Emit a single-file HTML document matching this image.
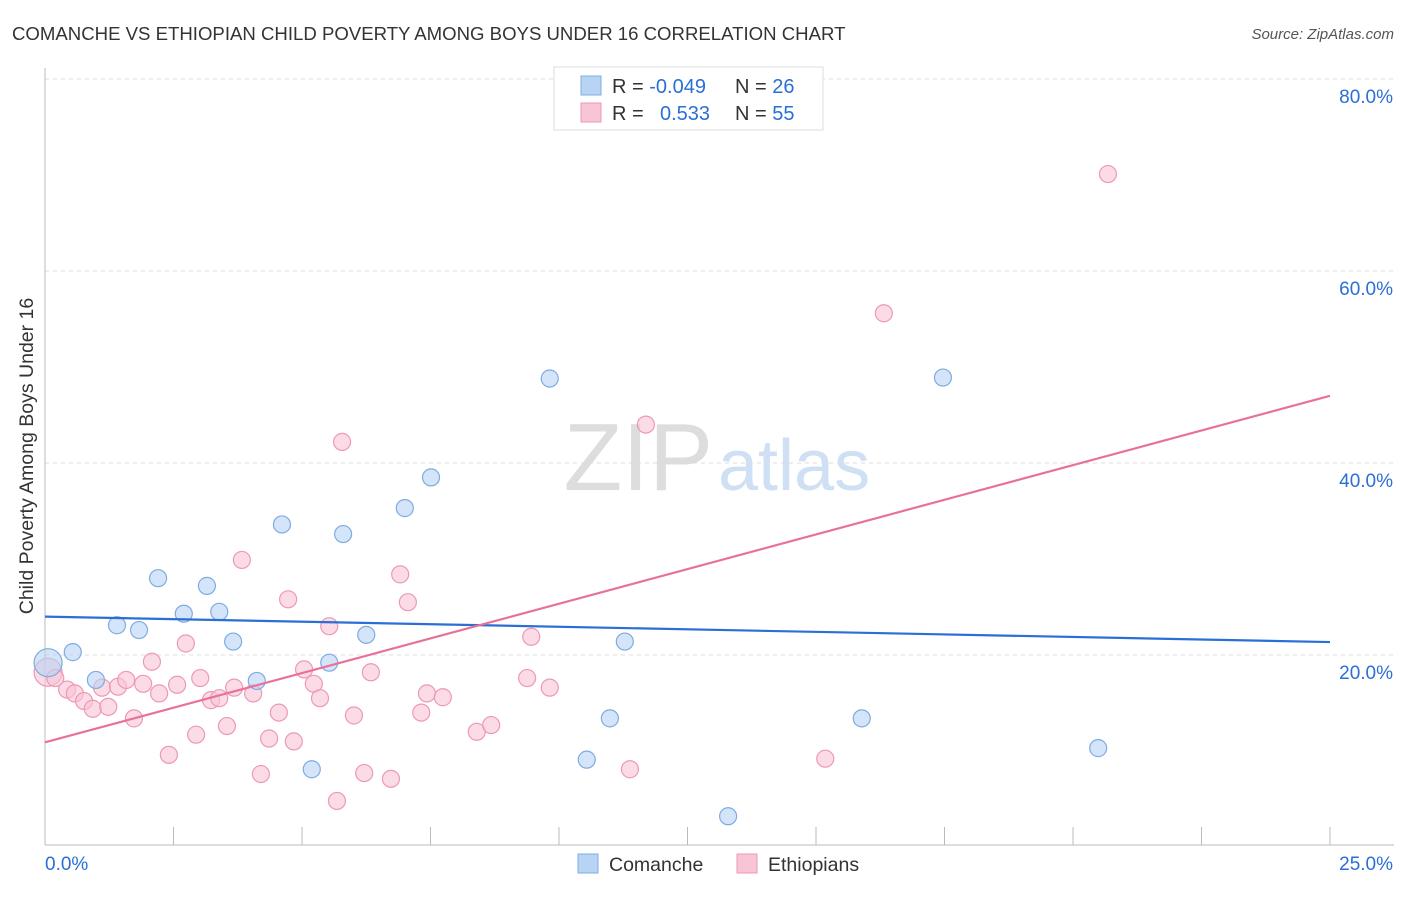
<!DOCTYPE html>
<html><head><meta charset="utf-8"><style>
body{margin:0;background:#fff;font-family:"Liberation Sans",sans-serif;}
svg text{font-family:"Liberation Sans",sans-serif;}
</style></head><body>
<svg id="chart" width="1406" height="892">
<text x="12" y="40" font-size="18.6" fill="#333">COMANCHE VS ETHIOPIAN CHILD POVERTY AMONG BOYS UNDER 16 CORRELATION CHART</text>
<text x="1394" y="39" font-size="15" fill="#555" text-anchor="end" font-style="italic">Source: ZipAtlas.com</text>
<text transform="translate(33,456) rotate(-90)" font-size="19.5" fill="#333" text-anchor="middle">Child Poverty Among Boys Under 16</text>
<g id="grid"></g>
<text x="713" y="490" font-size="96" fill="#ddd" text-anchor="end" font-family="Liberation Serif">ZIP</text>
<text x="718" y="490" font-size="72" fill="#cfe0f5">atlas</text>
<g id="marks"></g>
<g>
<rect x="554" y="67" width="269" height="63" fill="#fff" stroke="#ddd"/>
<rect x="581" y="76" width="20" height="19" fill="#b8d4f5" stroke="#7fabe0"/>
<rect x="581" y="103" width="20" height="19" fill="#f8c5d5" stroke="#ee98b5"/>
<text x="612" y="93" font-size="20" fill="#333">R = <tspan fill="#2a6fd6">-0.049</tspan><tspan x="735">N = </tspan><tspan fill="#2a6fd6">26</tspan></text>
<text x="612" y="120" font-size="20" fill="#333">R = <tspan x="660" fill="#2a6fd6">0.533</tspan><tspan x="735">N = </tspan><tspan fill="#2a6fd6">55</tspan></text>
</g>
<g>
<rect x="578" y="854" width="20" height="19" fill="#b8d4f5" stroke="#7fabe0"/>
<text x="609" y="871" font-size="19.5" fill="#333">Comanche</text>
<rect x="737" y="854" width="20" height="19" fill="#f8c5d5" stroke="#ee98b5"/>
<text x="768" y="871" font-size="19.5" fill="#333">Ethiopians</text>
</g>
</svg>
<script>
const yTicks=[20,40,60,80];
const xTickLabels=["0.0%","25.0%"];
const blueX=[0.06,0.54,0.99,1.4,1.83,2.2,2.7,3.15,3.39,3.66,4.12,4.61,5.19,5.53,5.8,6.25,7.0,7.51,9.82,10.54,10.99,11.28,15.89,17.47,20.49,13.29];
const blueY=[19.2,20.3,17.4,23.1,22.6,28.0,24.3,27.2,24.5,21.4,17.3,33.6,8.1,19.2,32.6,22.1,35.3,38.5,48.8,9.1,13.4,21.4,13.4,48.9,10.3,3.2];
const pinkX=[0.06,0.2,0.43,0.58,0.76,0.93,1.11,1.23,1.42,1.58,1.73,1.91,2.08,2.22,2.41,2.57,2.74,2.94,3.02,3.23,3.39,3.54,3.68,3.83,4.05,4.2,4.36,4.55,4.73,4.84,5.04,5.23,5.35,5.53,5.68,5.78,6.01,6.21,6.34,6.73,6.91,7.06,7.32,7.43,7.74,8.4,8.68,9.38,9.46,9.82,11.38,11.69,15.18,16.32,20.68];
const pinkY=[18.2,17.6,16.4,16.0,15.2,14.4,16.6,14.6,16.7,17.4,13.4,17.0,19.3,16.0,9.6,16.9,21.2,11.7,17.6,15.3,15.5,12.6,16.6,29.9,16.0,7.6,11.3,14.0,25.8,11.0,18.5,17.0,15.5,23.0,4.8,42.2,13.7,7.7,18.2,7.1,28.4,25.5,14.0,16.0,15.6,12.0,12.7,17.6,21.9,16.6,8.1,44.0,9.2,55.6,70.1];
const blueTrend=[24.0,21.35];
const pinkTrend=[10.9,47.0];
const X0=45,X1=1330,Y0=847,PPY=9.6;
const sx=v=>X0+(X1-X0)*v/25, sy=v=>Y0-v*PPY;
const NS="http://www.w3.org/2000/svg";
function mk(parent,tag,attrs){const e=document.createElementNS(NS,tag);for(const k in attrs)e.setAttribute(k,attrs[k]);parent.appendChild(e);return e;}
const grid=document.getElementById('grid');
yTicks.forEach(t=>{
 const l=mk(grid,'line',{x1:45,x2:1394,y1:sy(t),y2:sy(t),stroke:'#ddd','stroke-dasharray':'4,4'});
 
 
 const tx=mk(grid,'text',{x:1393,y:sy(t)+24,'font-size':19,fill:'#2a6fd6','text-anchor':'end'});
 tx.textContent=t.toFixed(1)+'%';
 
 
});
const ax=mk(grid,'line',{x1:45,x2:1394,y1:845,y2:845,stroke:'#bbb'});


const ay=mk(grid,'line',{x1:45,x2:45,y1:68,y2:845,stroke:'#bbb'});


for(let i=0;i<=10;i++){const x=45+i*128.5;const t=mk(grid,'line',{x1:x,x2:x,y1:827,y2:845,stroke:'#bbb'});
 
 }
const xl0=mk(grid,'text',{x:45,y:870,'font-size':19,fill:'#2a6fd6'});xl0.textContent=xTickLabels[0];


const xl1=mk(grid,'text',{x:1393,y:870,'font-size':19,fill:'#2a6fd6','text-anchor':'end'});xl1.textContent=xTickLabels[1];


const marks=document.getElementById('marks');
pinkX.forEach((x,i)=>{const c=mk(marks,'circle',{cx:sx(x),cy:sy(pinkY[i]),r:i==0?14:8.5,fill:'#f8c5d5','fill-opacity':0.6,stroke:'#ee98b5','stroke-width':1.2});
 
 });
blueX.forEach((x,i)=>{const c=mk(marks,'circle',{cx:sx(x),cy:sy(blueY[i]),r:i==0?14:8.5,fill:'#b8d4f5','fill-opacity':0.6,stroke:'#7fabe0','stroke-width':1.2});
 
 });
const bl=mk(marks,'line',{x1:sx(0),x2:sx(25),y1:sy(blueTrend[0]),y2:sy(blueTrend[1]),stroke:'#2a6fd6','stroke-width':2.2});


const pl=mk(marks,'line',{x1:sx(0),x2:sx(25),y1:sy(pinkTrend[0]),y2:sy(pinkTrend[1]),stroke:'#e8719a','stroke-width':2.2});


</script>
</body></html>
